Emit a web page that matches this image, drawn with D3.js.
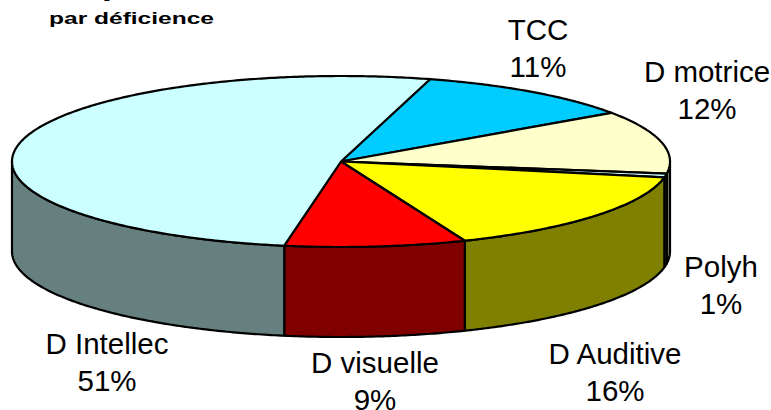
<!DOCTYPE html>
<html>
<head>
<meta charset="utf-8">
<script src="https://cdn.jsdelivr.net/npm/d3@7"></script>
<style>
html, body { margin: 0; padding: 0; background: #fff; overflow: hidden; }
text { font-family: "Liberation Sans", Arial, sans-serif; fill: #000; }
</style>
</head>
<body>
<div id="main-chart"></div>
<script>
const categories = ["TCC", "D motrice", "Polyh", "D Auditive", "D visuelle", "D Intellec"];
const percentLabels = [11, 12, 1, 16, 9, 51];
// slice sizes measured on the drawing, they don't quite add up like the printed labels
const sliceShares = [11, 11.9, 0.7, 15.9, 8.9, 51.6];
const topColors = ["#00CCFF", "#FFFFCC", "#CCFFFF", "#FFFF00", "#FF0000", "#CCFFFF"];
const sideColors = ["#006680", "#808066", "#668080", "#808000", "#800000", "#668080"];
const labelX = [538, 707, 721, 615, 375, 107];
const labelY = [40, 82, 277, 364, 373, 354];

const width = 771, height = 410;
const cx = 341, cy = 161.5, rx = 329, ry = 85.5, depth = 90;

const svg = d3.select("#main-chart")
    .append("svg")
    .attr("width", width)
    .attr("height", height)
    .style("display", "block");

const startAngle = 15.7 * Math.PI / 180;
const pie = d3.pie().sort(null).startAngle(startAngle).endAngle(startAngle + 2 * Math.PI);
const slices = pie(sliceShares).map((d, i) => ({ ...d, i }));

const line = d3.line().x(d => d[0]).y(d => d[1]);
const rim = (a, dy = 0) => [cx + rx * Math.sin(a), cy - ry * Math.cos(a) + dy];
function arcPoints(a0, a1, dy = 0) {
    const n = Math.max(2, Math.ceil((a1 - a0) / 0.01));
    return d3.range(n + 1).map(k => rim(a0 + (a1 - a0) * k / n, dy));
}

// side walls, only the part facing the viewer (90deg to 270deg)
const g = svg.append("g")
    .attr("stroke", "#000")
    .attr("stroke-width", 2.2)
    .attr("stroke-linejoin", "round");

slices.forEach(d => {
    const a0 = Math.max(d.startAngle, Math.PI / 2);
    const a1 = Math.min(d.endAngle, 3 * Math.PI / 2);
    if (a1 <= a0) return;
    const pts = arcPoints(a0, a1).concat(arcPoints(a0, a1, depth).reverse());
    g.append("path")
        .attr("d", line(pts) + "Z")
        .attr("fill", sideColors[d.i]);
});

// top face
slices.forEach(d => {
    const pts = [[cx, cy]].concat(arcPoints(d.startAngle, d.endAngle));
    g.append("path")
        .attr("d", line(pts) + "Z")
        .attr("fill", topColors[d.i]);
});

categories.forEach((name, i) => {
    const t = svg.append("text")
        .attr("text-anchor", "middle")
        .attr("font-size", 29.5);
    t.append("tspan").attr("x", labelX[i]).attr("y", labelY[i]).text(name);
    t.append("tspan").attr("x", labelX[i]).attr("y", labelY[i] + 37).text(percentLabels[i] + "%");
});

// first title line is cropped by the top edge, only the descender of a g shows
svg.append("text")
    .attr("x", 102)
    .attr("y", -2)
    .attr("font-size", 17)
    .attr("font-weight", "bold")
    .text("g");

svg.append("text")
    .attr("x", 49)
    .attr("y", 24)
    .attr("font-size", 17)
    .attr("font-weight", "bold")
    .attr("textLength", 165)
    .attr("lengthAdjust", "spacingAndGlyphs")
    .text("par déficience");
</script>
</body>
</html>
